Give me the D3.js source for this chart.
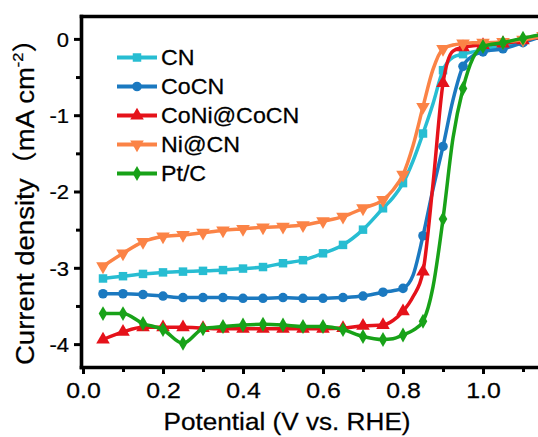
<!DOCTYPE html>
<html><head><meta charset="utf-8">
<script src="https://cdn.jsdelivr.net/npm/d3@7"></script>
<style>body{margin:0;background:#fff}svg{display:block}</style>
</head><body>
<svg id="c" width="538" height="437"></svg>
<script>
// ---- data ----
const potentials = [0.05,0.10,0.15,0.20,0.25,0.30,0.35,0.40,0.45,0.50,0.55,0.60,0.65,0.70,0.75,0.775,0.80,0.825,0.85,0.875,0.90,0.925,0.95,0.975,1.00,1.05,1.10,1.15];
const cnCurrent   = [-3.14,-3.11,-3.08,-3.06,-3.05,-3.04,-3.03,-3.01,-2.99,-2.94,-2.90,-2.81,-2.70,-2.50,-2.22,-2.08,-1.89,-1.60,-1.24,-0.85,-0.41,-0.24,-0.20,-0.17,-0.14,-0.09,-0.03,0.05];
const cocnCurrent = [-3.34,-3.34,-3.35,-3.37,-3.39,-3.39,-3.39,-3.40,-3.40,-3.39,-3.40,-3.40,-3.39,-3.37,-3.32,-3.30,-3.27,-3.10,-2.58,-1.97,-1.41,-0.80,-0.36,-0.22,-0.17,-0.13,-0.05,0.04];
const coniCurrent = [-3.94,-3.84,-3.78,-3.78,-3.78,-3.79,-3.80,-3.80,-3.80,-3.80,-3.80,-3.80,-3.79,-3.76,-3.75,-3.69,-3.57,-3.38,-3.05,-1.90,-0.58,-0.16,-0.11,-0.09,-0.08,-0.06,-0.02,0.04];
const niCurrent   = [-2.98,-2.81,-2.66,-2.59,-2.57,-2.54,-2.51,-2.49,-2.47,-2.46,-2.44,-2.39,-2.33,-2.22,-2.11,-1.98,-1.78,-1.40,-0.89,-0.40,-0.13,-0.08,-0.06,-0.05,-0.05,-0.04,-0.01,0.04];
const ptcCurrent  = [-3.60,-3.60,-3.73,-3.81,-3.99,-3.80,-3.77,-3.75,-3.74,-3.75,-3.77,-3.77,-3.81,-3.90,-3.94,-3.93,-3.88,-3.82,-3.70,-3.25,-2.36,-1.30,-0.65,-0.25,-0.10,-0.05,0.01,0.06];

const seriesNames  = ["CN","CoCN","CoNi@CoCN","Ni@CN","Pt/C"];
const seriesColors = ["#27bdd2","#1b79c0","#e5121a","#fb8346","#18a218"];
const xMajorTicks = [0,0.2,0.4,0.6,0.8,1.0];
const xMinorTicks = [0.1,0.3,0.5,0.7,0.9,1.1];
const yMajorTicks = [0,-1,-2,-3,-4];
const yMinorTicks = [-0.5,-1.5,-2.5,-3.5];
const xTitle = "Potential (V vs. RHE)";
const yTitle = "Current density";
const yTitleUnit = "mA cm";
const yTitleSup = "-2";

// ---- build ----
const valueSets = [cnCurrent, cocnCurrent, coniCurrent, niCurrent, ptcCurrent];
const symbols = [
  {type: d3.symbolSquare, size: 72, rot: 0},
  {type: d3.symbolCircle, size: 72, rot: 0},
  {type: d3.symbolTriangle, size: 80, rot: 0},
  {type: d3.symbolTriangle, size: 80, rot: 180},
  {type: d3.symbolDiamond, size: 64, rot: 0}
];
const series = seriesNames.map((name, i) => ({
  name, color: seriesColors[i], sym: symbols[i],
  points: potentials.map((p, j) => ({x: p, y: valueSets[i][j]}))
}));

const FONT = "'Liberation Sans', Arial, 'Noto Sans CJK SC', sans-serif";
const CJK = "'Noto Sans CJK SC', sans-serif";
const svg = d3.select("#c");
const x = d3.scaleLinear([-0.005, 1.15], [81, 543]);
const y = d3.scaleLinear([-4.3, 0.3], [367, 16]);

svg.append("clipPath").attr("id", "plot").append("rect")
  .attr("x", 81).attr("y", 16).attr("width", 460).attr("height", 351);

const axisW = 3.6;
function styleAxis(g) {
  g.select(".domain").attr("stroke", "#000").attr("stroke-width", axisW).attr("stroke-linecap", "square");
  g.selectAll(".tick line").attr("stroke", "#000").attr("stroke-width", 3);
}
function styleText(sel, size) {
  sel.attr("font-family", FONT).attr("font-size", size).attr("fill", "#000")
    .attr("stroke", "#000").attr("stroke-width", 0.25);
}

// minor ticks
svg.append("g").attr("transform", "translate(0,367)")
  .call(d3.axisBottom(x).tickValues(xMinorTicks).tickSize(5).tickFormat(""))
  .call(styleAxis).call(g => g.select(".domain").remove());
svg.append("g").attr("transform", "translate(81,0)")
  .call(d3.axisLeft(y).tickValues(yMinorTicks).tickSize(5).tickFormat(""))
  .call(styleAxis).call(g => g.select(".domain").remove());

// top border
svg.append("g").attr("transform", "translate(0,16)")
  .call(d3.axisTop(x).tickValues([]).tickSizeOuter(0))
  .call(styleAxis);

// bottom axis
const gx = svg.append("g").attr("transform", "translate(0,367)")
  .call(d3.axisBottom(x).tickValues(xMajorTicks).tickSize(7).tickSizeOuter(0).tickFormat(d3.format(".1f")))
  .call(styleAxis);
gx.selectAll(".tick text").attr("y", 31.5).attr("dy", null)
  .call(styleText, 22).attr("transform", "scale(1.13,1)");

// left axis
const gy = svg.append("g").attr("transform", "translate(81,0)")
  .call(d3.axisLeft(y).tickValues(yMajorTicks).tickSize(7).tickSizeOuter(0).tickFormat(d => String(d)))
  .call(styleAxis);
gy.selectAll(".tick text").attr("x", -12 / 1.1).attr("dy", 7.2)
  .call(styleText, 20).attr("transform", "scale(1.1,1)");

// curves
const line = d3.line().x(d => x(d.x)).y(d => y(d.y)).curve(d3.curveMonotoneX);
const plot = svg.append("g").attr("clip-path", "url(#plot)");
const isMarker = v => Math.abs(v * 20 - Math.round(v * 20)) < 1e-6;
series.forEach(s => {
  const g = plot.append("g");
  g.append("path").attr("d", line(s.points)).attr("fill", "none")
    .attr("stroke", s.color).attr("stroke-width", 3.5).attr("stroke-linejoin", "round");
  g.selectAll("path.m").data(s.points.filter(p => isMarker(p.x))).join("path")
    .attr("class", "m")
    .attr("d", d3.symbol().type(s.sym.type).size(s.sym.size))
    .attr("transform", d => `translate(${x(d.x)},${y(d.y)}) rotate(${s.sym.rot})`)
    .attr("fill", s.color);
});

// legend
const legend = svg.append("g");
series.forEach((s, i) => {
  const cy = 57.5 + i * 29;
  legend.append("line").attr("x1", 117).attr("x2", 157).attr("y1", cy).attr("y2", cy)
    .attr("stroke", s.color).attr("stroke-width", 4);
  legend.append("path").attr("d", d3.symbol().type(s.sym.type).size(s.sym.size)())
    .attr("transform", `translate(137,${cy}) rotate(${s.sym.rot})`).attr("fill", s.color);
  legend.append("text").text(s.name)
    .attr("transform", `translate(161,${cy + 7.8}) scale(1.08,1)`)
    .call(styleText, 21.5);
});

// titles
svg.append("text").text(xTitle)
  .attr("transform", "translate(287,430) scale(1.09,1)")
  .attr("text-anchor", "middle").call(styleText, 24);

const yt = svg.append("text")
  .attr("transform", "translate(34,195) rotate(-90) scale(1.1,1)")
  .attr("text-anchor", "middle").call(styleText, 25);
yt.append("tspan").text(yTitle);
yt.append("tspan").text("\uFF08").attr("font-family", CJK);
yt.append("tspan").text(yTitleUnit);
yt.append("tspan").text(yTitleSup).attr("font-size", 15).attr("dy", -11);
yt.append("tspan").text("\uFF09").attr("font-family", CJK).attr("dy", 11);
</script>
</body></html>
